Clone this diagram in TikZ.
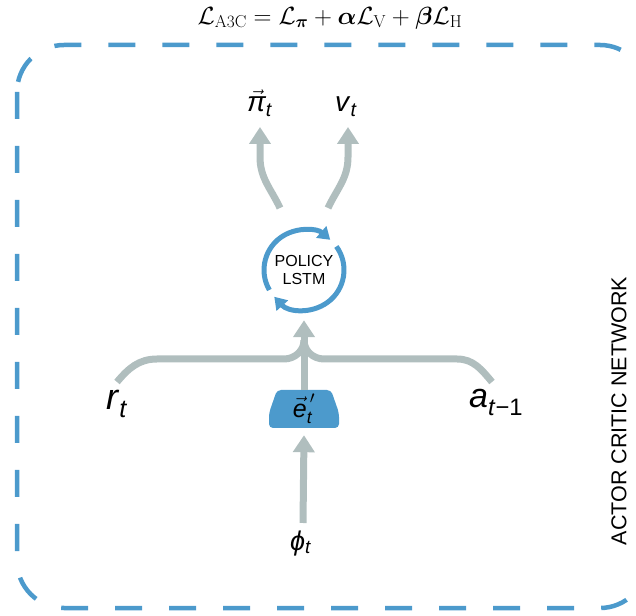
\documentclass[tikz,border=0pt]{standalone}
\usepackage{amsmath}
\usepackage[no-math]{fontspec}
\setmainfont{Liberation Sans}
\usetikzlibrary{arrows.meta,calc,positioning}

\definecolor{netblue}{RGB}{76,154,204}
\definecolor{flowgray}{RGB}{176,190,190}

% italic letter with subscript, in the sans text font
\newcommand{\sub}[2]{\textit{#1}\textsubscript{\textit{#2}}}
\newcommand{\vsub}[2]{\ensuremath{\vec{\text{\itshape #1}}_{\text{\itshape #2}}}}

\begin{document}
\begin{tikzpicture}[x=1pt,y=1pt,
    flow/.style={draw=flowgray, line width=7pt, -{Triangle[width=21pt,length=17pt]}},
    feed/.style={draw=flowgray, line width=7pt},
    spin/.style={draw=netblue, line width=5pt, -{Triangle[width=15pt,length=12pt]}},
    frame/.style={draw=netblue, line width=4.5pt, dash pattern=on 27pt off 27pt, rounded corners=47pt},
    var/.style={anchor=base west, inner sep=0pt},
    embed/.style={minimum width=70pt, minimum height=38pt, inner sep=0pt,
        path picture={\fill[netblue, rounded corners=4pt]
            (path picture bounding box.south west) -- ++(0,15) -- ++(8,23) -- ++(54,0)
            -- ++(8,-23) -- ++(0,-15) -- cycle;}}]

    \useasboundingbox (0,0) rectangle (636,615);

    % ===== loss =====
    \node[font=\fontsize{26}{30}\selectfont] (loss) at (330,597)
        {$\mathcal{L}_{\mathrm{A3C}} = \mathcal{L}_{\boldsymbol\pi} + \boldsymbol\alpha\mathcal{L}_{\mathrm{V}} + \boldsymbol\beta\mathcal{L}_{\mathrm{H}}$};

    % ===== network frame (right edge runs off the page) =====
    \draw[frame] (17,570) rectangle (647,7);
    \node[font=\fontsize{21.5}{24}\selectfont, rotate=90] (acn) at (619,204) {ACTOR CRITIC NETWORK};

    % ===== policy LSTM =====
    \node[circle, minimum size=80pt, inner sep=0pt, align=center,
          font=\fontsize{16}{18}\selectfont] (lstm) at (304,345) {POLICY\\LSTM};
    \draw[spin] ($(lstm.center)+(210:40)$) arc[start angle=210, end angle=49, radius=40];
    \draw[spin] ($(lstm.center)+(36:40)$) arc[start angle=36, end angle=-138, radius=40];

    % ===== outputs =====
    \node[var, font=\fontsize{28}{30}\selectfont] (pi) at (247,503) {\vsub{π}{t}};
    \node[var, font=\fontsize{28}{30}\selectfont] (v) at (335,503) {\sub{v}{t}};
    \draw[flow] ($(lstm.center)+(-24,62)$) to[out=115, in=-90] ($(pi.base west)+(13,-45)$) -- ($(pi.base west)+(13,-15)$);
    \draw[flow] ($(lstm.center)+(24,62)$) to[out=65, in=-90] ($(v.base west)+(13,-45)$) -- ($(v.base west)+(13,-15)$);

    % ===== inputs =====
    \node[var, font=\fontsize{36}{40}\selectfont] (r) at (106,205) {\sub{r}{t}};
    \node[var, font=\fontsize{34}{38}\selectfont] (a) at (469,207) {\textit{a}\textsubscript{\textit{t}−1}};
    \node[embed, font=\fontsize{25}{27}\selectfont] (e) at (304,206)
        {\ensuremath{\vec{\text{\itshape e}}_{\text{\itshape t}}^{\,\prime}}};
    \node[var, font=\fontsize{27}{30}\selectfont] (phi) at (290,65) {\sub{ϕ}{t}};

    % merge into the LSTM
    \draw[feed] ($(r.base west)+(11,28)$) to[out=50, in=180] (157,256) -- (284,256) to[out=0, in=-90] ($(lstm.south)+(0,-30)$);
    \draw[feed] ($(a.base west)+(23,26)$) to[out=130, in=0] (457,256) -- (324,256) to[out=180, in=-90] ($(lstm.south)+(0,-30)$);
    \draw[flow] (e.north) -- ($(lstm.south)+(0,-10)$);
    \draw[flow] ($(phi.base west)+(13,27)$) -- ($(e.south)+(0,-7)$);
\end{tikzpicture}
\end{document}
